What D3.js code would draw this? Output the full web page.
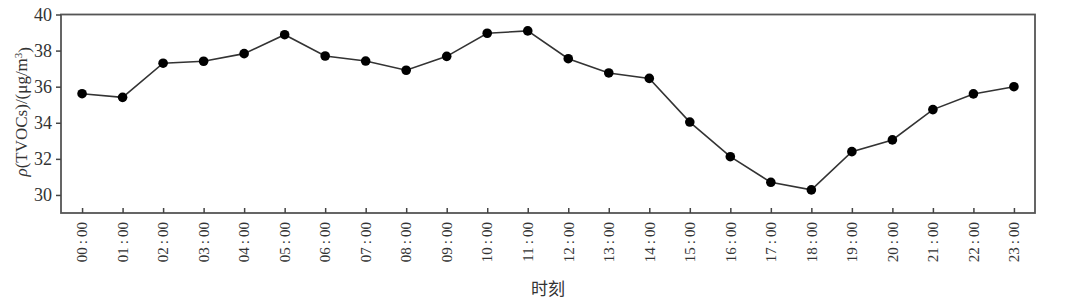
<!DOCTYPE html>
<html>
<head>
<meta charset="utf-8">
<script src="https://cdn.jsdelivr.net/npm/d3@7"></script>
<style>
  body { margin: 0; background: #fff; }
  svg { display: block; }
</style>
</head>
<body>
<svg id="mainSVG"></svg>
<script>
// hours of the day and TVOCs concentration (ug/m3)
var hours = ["00:00", "01:00", "02:00", "03:00", "04:00", "05:00", "06:00", "07:00",
             "08:00", "09:00", "10:00", "11:00", "12:00", "13:00", "14:00", "15:00",
             "16:00", "17:00", "18:00", "19:00", "20:00", "21:00", "22:00", "23:00"];
var tvocs = [35.61, 35.41, 37.30, 37.41, 37.83, 38.88, 37.70, 37.42,
             36.91, 37.68, 38.96, 39.09, 37.55, 36.76, 36.46, 34.04,
             32.12, 30.70, 30.28, 32.40, 33.05, 34.73, 35.60, 36.00];
var yTicks = [30, 32, 34, 36, 38, 40];

var width = 1080;
var height = 303;
// frame of the plot
var margin = { top: 14.5, right: 45, bottom: 90, left: 61 };
var plotW = width - margin.left - margin.right;
var plotH = height - margin.top - margin.bottom;

var serif = "Liberation Serif, DejaVu Serif, serif";

var svg = d3.select("#mainSVG")
    .attr("width", width)
    .attr("height", height);

var g = svg.append("g")
    .attr("transform", "translate(" + margin.left + "," + margin.top + ")");

var x = d3.scalePoint()
    .domain(hours)
    .range([0, plotW])
    .padding(0.52);

var y = d3.scaleLinear()
    .domain([29, 40])
    .range([plotH, 0]);

// frame
g.append("rect")
    .attr("x", 0)
    .attr("y", 0)
    .attr("width", plotW)
    .attr("height", plotH)
    .attr("fill", "none")
    .attr("stroke", "#555")
    .attr("stroke-width", 1.8);

// y axis, ticks outward
var yAxis = g.append("g")
    .call(d3.axisLeft(y).tickValues(yTicks).tickSize(5).tickPadding(4))
    .attr("font-family", serif)
    .attr("font-size", 18);
yAxis.select(".domain").remove();
yAxis.selectAll("line").attr("stroke", "#444").attr("stroke-width", 1.5);
yAxis.selectAll("text").attr("fill", "#333");

// x axis, ticks inward
var xAxis = g.append("g")
    .attr("transform", "translate(0," + plotH + ")")
    .call(d3.axisTop(x).tickSize(5).tickFormat(""));
xAxis.select(".domain").remove();
xAxis.selectAll("line").attr("stroke", "#444").attr("stroke-width", 1.5);

// rotated hour labels, colon spaced a bit wider
g.append("g")
    .attr("font-family", serif)
    .attr("font-size", 15)
    .selectAll("text")
    .data(hours)
    .enter()
    .append("text")
    .attr("transform", function(d) { return "translate(" + x(d) + "," + (plotH + 9) + ") rotate(-90)"; })
    .attr("dy", "0.35em")
    .attr("text-anchor", "end")
    .attr("fill", "#333")
    .text(function(d) { return d.replace(":", "\u2009:\u2009"); });

// line
var line = d3.line()
    .x(function(d, i) { return x(hours[i]); })
    .y(function(d) { return y(d); });

g.append("path")
    .datum(tvocs)
    .attr("d", line)
    .attr("fill", "none")
    .attr("stroke", "#333")
    .attr("stroke-width", 1.6);

g.append("g")
    .selectAll("circle")
    .data(tvocs)
    .enter()
    .append("circle")
    .attr("cx", function(d, i) { return x(hours[i]); })
    .attr("cy", function(d) { return y(d); })
    .attr("r", 4.8)
    .attr("fill", "#000");

// axis titles
var yLabel = svg.append("text")
    .attr("transform", "translate(21," + (margin.top + plotH / 2 - 2) + ") rotate(-90)")
    .attr("dy", "0.35em")
    .attr("text-anchor", "middle")
    .attr("font-family", serif)
    .attr("font-size", 17)
    .attr("fill", "#333");
yLabel.append("tspan").attr("font-style", "italic").text("ρ");
yLabel.append("tspan").text("(TVOCs)/(μg/m");
yLabel.append("tspan").attr("dy", "-0.45em").attr("font-size", 11).text("3");
yLabel.append("tspan").attr("dy", "0.45em").text(")");

svg.append("text")
    .attr("x", margin.left + plotW / 2)
    .attr("y", 295)
    .attr("text-anchor", "middle")
    .attr("font-family", "Noto Sans CJK SC")
    .attr("font-size", 17)
    .attr("fill", "#333")
    .text("时刻");
</script>
</body>
</html>
